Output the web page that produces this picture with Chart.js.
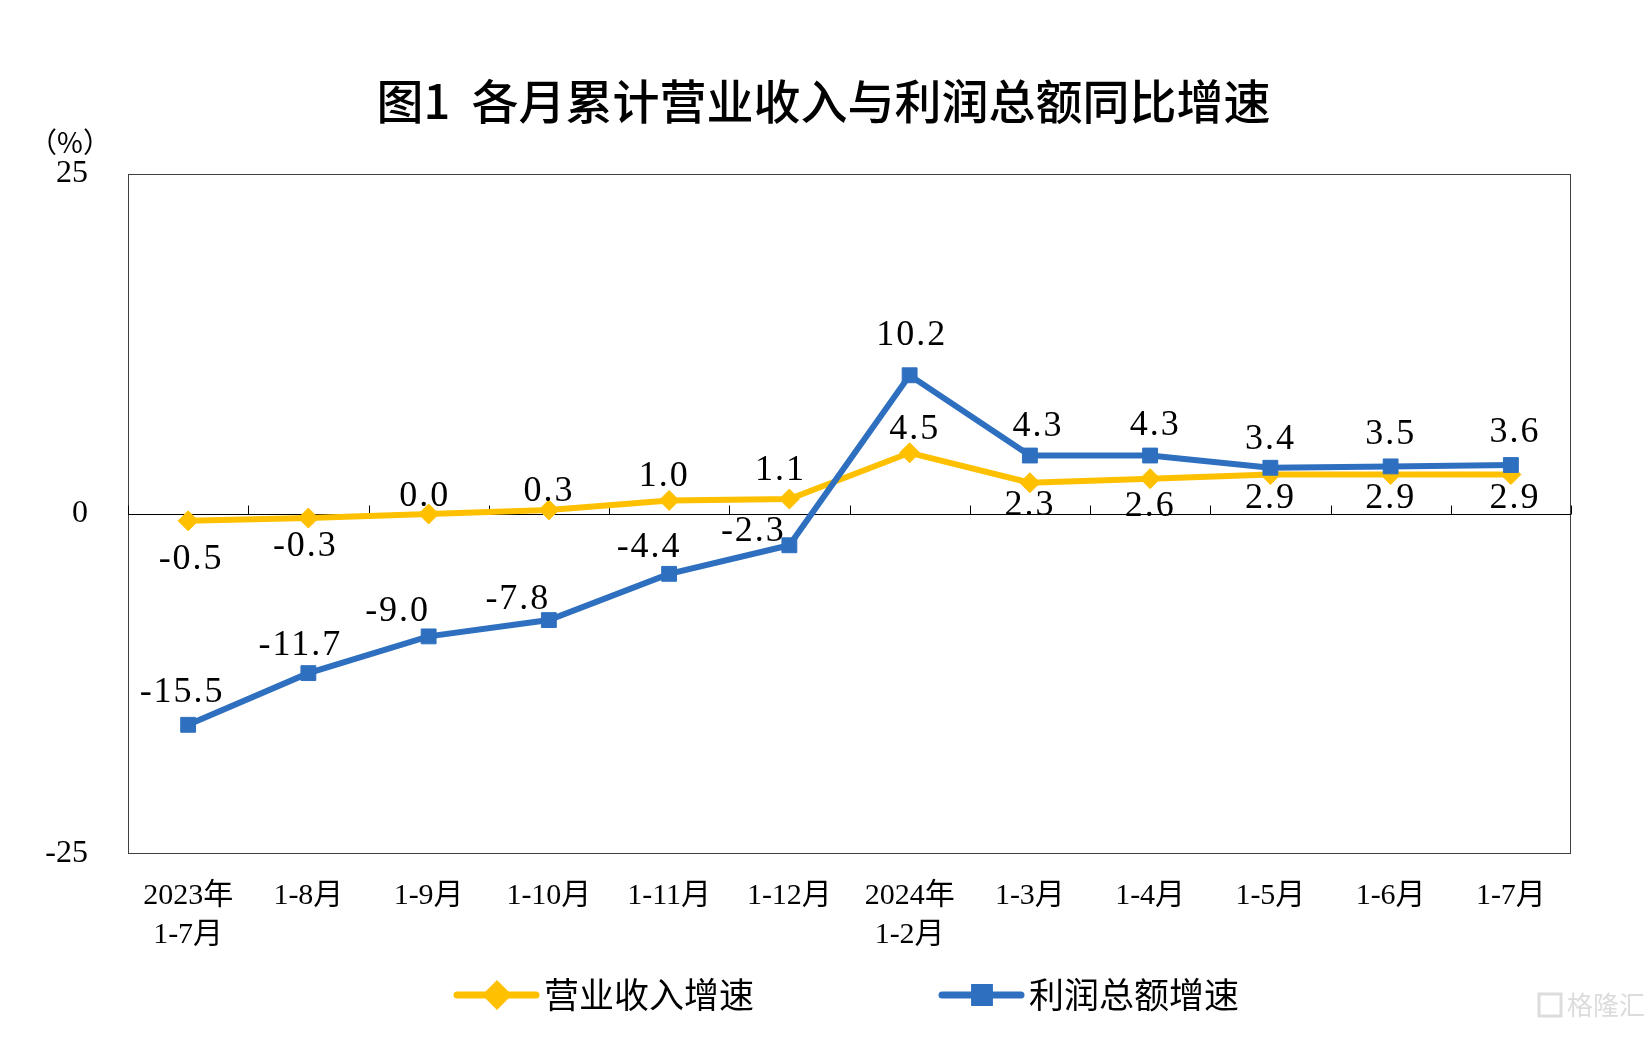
<!DOCTYPE html>
<html>
<head>
<meta charset="utf-8">
<title>各月累计营业收入与利润总额同比增速</title>
<script src="https://cdn.jsdelivr.net/npm/chart.js@4.4.1/dist/chart.umd.min.js"></script>
<style>
  html, body { margin: 0; padding: 0; background: #fff; }
</style>
</head>
<body>
<canvas id="chart" width="1647" height="1037"></canvas>
<script>
// data
const months = [['2023年', '1-7月'], '1-8月', '1-9月', '1-10月', '1-11月', '1-12月',
                ['2024年', '1-2月'], '1-3月', '1-4月', '1-5月', '1-6月', '1-7月'];
const revenueGrowth = [-0.5, -0.3, 0.0, 0.3, 1.0, 1.1, 4.5, 2.3, 2.6, 2.9, 2.9, 2.9];
const profitGrowth = [-15.5, -11.7, -9.0, -7.8, -4.4, -2.3, 10.2, 4.3, 4.3, 3.4, 3.5, 3.6];
const yTicks = [-25, 0, 25];

const SERIF = "'Liberation Serif', 'Noto Sans CJK SC', serif";
const CJK = "'Noto Sans CJK SC', sans-serif";
const YELLOW = '#FFC000';
const BLUE = '#2E70BF';

// where each value label sits relative to its point (dx, dy)
const revenueLabelPos = [[3, 39], [-3, 28], [-4, -17], [0, -18], [-5, -24], [-9, -28],
                         [5, -23], [0, 23], [0, 28], [0, 24], [0, 24], [4, 24]];
const profitLabelPos = [[-6, -32], [-8, -28], [-31, -25], [-31, -21], [-20, -26], [-36, -14],
                        [2, -40], [8, -29], [5, -30], [0, -28], [0, -32], [4, -32]];

const decor = {
    id: 'decor',
    beforeDatasetsDraw(chart) {
        const { ctx, chartArea: a, scales: { x, y } } = chart;
        const y0 = Math.round(y.getPixelForValue(0)) + 0.5;
        ctx.save();
        // plot frame
        ctx.strokeStyle = '#404040';
        ctx.lineWidth = 1;
        ctx.strokeRect(a.left + 0.5, a.top + 0.5, a.width - 1, a.height - 1);
        // zero line with category ticks
        ctx.strokeStyle = '#000';
        ctx.beginPath();
        ctx.moveTo(a.left, y0);
        ctx.lineTo(a.right, y0);
        for (let i = 0; i <= months.length; i++) {
            const px = Math.round(x.getPixelForValue(i - 0.5)) + 0.5;
            ctx.moveTo(px, y0);
            ctx.lineTo(px, y0 - 9);
        }
        ctx.stroke();
        ctx.restore();
    },
    afterDatasetsDraw(chart) {
        const { ctx } = chart;
        ctx.save();
        ctx.fillStyle = '#000';
        ctx.font = '36px ' + SERIF;
        ctx.letterSpacing = '2px';
        ctx.textAlign = 'center';
        ctx.textBaseline = 'middle';
        chart.data.datasets.forEach((ds, di) => {
            const meta = chart.getDatasetMeta(di);
            meta.data.forEach((pt, i) => {
                const off = ds.labelPos[i];
                ctx.fillText(ds.data[i].toFixed(1), pt.x + off[0], pt.y + off[1]);
            });
        });
        ctx.restore();
    },
    afterDraw(chart) {
        const { ctx, width } = chart;
        ctx.save();
        // title
        ctx.fillStyle = '#000';
        ctx.textAlign = 'center';
        ctx.textBaseline = 'middle';
        ctx.font = '500 47px ' + CJK;
        ctx.fillText('图1  各月累计营业收入与利润总额同比增速', width / 2, 101);
        // unit
        ctx.font = '28px ' + CJK;
        ctx.fillText('（%）', 70, 142);

        // legend
        ctx.textAlign = 'left';
        ctx.font = '35px ' + CJK;
        const items = [
            { ds: chart.data.datasets[0], x: 457 },
            { ds: chart.data.datasets[1], x: 942 }
        ];
        const ly = 995;
        items.forEach(it => {
            ctx.strokeStyle = it.ds.borderColor;
            ctx.lineWidth = 7;
            ctx.lineCap = 'round';
            ctx.beginPath();
            ctx.moveTo(it.x, ly);
            ctx.lineTo(it.x + 79, ly);
            ctx.stroke();
            Chart.helpers.drawPoint(ctx, {
                pointStyle: it.ds.pointStyle,
                radius: it.ds.pointRadius,
                borderWidth: 1
            }, it.x + 40, ly);
            ctx.fillStyle = it.ds.borderColor;
            ctx.fill();
            ctx.fillStyle = '#000';
            ctx.fillText(it.ds.label, it.x + 87, ly);
        });

        // watermark
        ctx.fillStyle = '#dcdcdc';
        ctx.font = '26px ' + CJK;
        ctx.fillText('格隆汇', 1567, 1005);
        ctx.strokeStyle = '#dcdcdc';
        ctx.lineWidth = 3;
        ctx.lineCap = 'butt';
        ctx.strokeRect(1539, 994, 22, 22);
        ctx.restore();
    }
};

new Chart(document.getElementById('chart'), {
    type: 'line',
    data: {
        labels: months,
        datasets: [
            {
                label: '营业收入增速',
                data: revenueGrowth,
                labelPos: revenueLabelPos,
                borderColor: YELLOW,
                backgroundColor: YELLOW,
                borderWidth: 6,
                pointStyle: 'rectRot',
                pointRadius: 10,
                pointBorderWidth: 1,
                tension: 0,
                order: 1
            },
            {
                label: '利润总额增速',
                data: profitGrowth,
                labelPos: profitLabelPos,
                borderColor: BLUE,
                backgroundColor: BLUE,
                borderWidth: 6,
                pointStyle: 'rect',
                pointRadius: 10.5,
                pointBorderWidth: 1,
                tension: 0,
                order: 0
            }
        ]
    },
    options: {
        responsive: false,
        animation: false,
        layout: { padding: { top: 174, right: 76, bottom: 0, left: 0 } },
        plugins: {
            legend: { display: false },
            title: { display: false },
            tooltip: { enabled: false }
        },
        scales: {
            x: {
                offset: true,
                grid: { display: false, drawTicks: false },
                border: { display: false },
                ticks: {
                    color: '#000',
                    padding: 23,
                    maxRotation: 0,
                    autoSkip: false,
                    font: { family: SERIF, size: 30, lineHeight: 1.3 }
                },
                afterFit(scale) { scale.height = 183; }
            },
            y: {
                min: -25,
                max: 25,
                grid: { display: false, drawTicks: false },
                border: { display: false },
                afterBuildTicks(scale) { scale.ticks = yTicks.map(v => ({ value: v })); },
                ticks: {
                    color: '#000',
                    padding: 40,
                    font: { family: SERIF, size: 32 }
                },
                afterFit(scale) { scale.width = 128; }
            }
        }
    },
    plugins: [decor]
});
</script>
</body>
</html>
